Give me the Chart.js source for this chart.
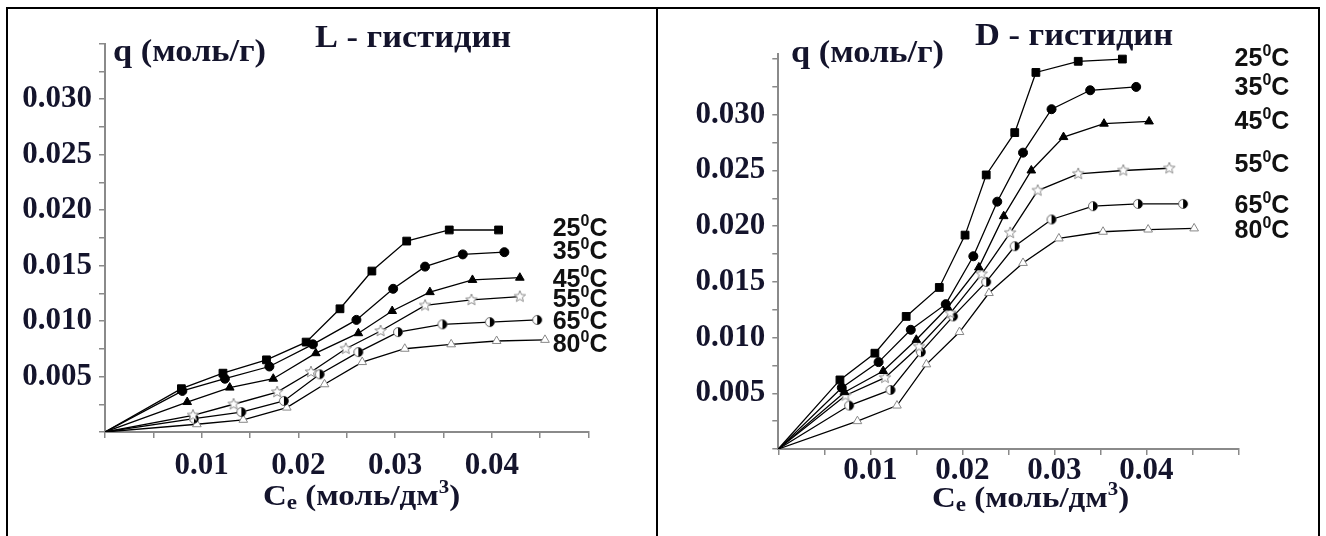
<!DOCTYPE html>
<html>
<head>
<meta charset="utf-8">
<title>Изотермы адсорбции гистидина</title>
<script src="https://cdn.jsdelivr.net/npm/chart.js@4.4.1/dist/chart.umd.min.js"></script>
<style>
  body { margin: 0; background: #fff; width: 1326px; height: 536px; overflow: hidden; position: relative; }
  .line { position: absolute; background: #000; }
  canvas { position: absolute; }
</style>
</head>
<body>
<div class="line" style="left:6px;top:7px;width:1314px;height:2px"></div>
<div class="line" style="left:6px;top:7px;width:2px;height:529px"></div>
<div class="line" style="left:656px;top:7px;width:2px;height:529px"></div>
<div class="line" style="left:1318px;top:7px;width:2px;height:529px"></div>
<canvas id="lChart" width="648" height="527" style="left:8px;top:9px"></canvas>
<canvas id="dChart" width="660" height="527" style="left:658px;top:9px"></canvas>
<script>
const temps = ['25', '35', '45', '55', '65', '80'];

// L - гистидин : Ce (моль/дм3) and q (моль/г)
const lCe25 = [0, 0.0079, 0.0122, 0.0167, 0.0208, 0.0243, 0.0276, 0.0312, 0.0356, 0.0407];
const lQ25  = [0, 0.0039, 0.0053, 0.0065, 0.0081, 0.0111, 0.0145, 0.0172, 0.0182, 0.0182];
const lCe35 = [0, 0.0080, 0.0124, 0.0170, 0.0215, 0.0260, 0.0298, 0.0331, 0.0370, 0.0413];
const lQ35  = [0, 0.0037, 0.0048, 0.0059, 0.0079, 0.0101, 0.0129, 0.0149, 0.0160, 0.0162];
const lCe45 = [0, 0.0085, 0.0129, 0.0174, 0.0218, 0.0262, 0.0297, 0.0336, 0.0380, 0.0429];
const lQ45  = [0, 0.0027, 0.0040, 0.0048, 0.0071, 0.0089, 0.0109, 0.0126, 0.0137, 0.0139];
const lCe55 = [0, 0.0091, 0.0133, 0.0178, 0.0213, 0.0249, 0.0285, 0.0331, 0.0379, 0.0429];
const lQ55  = [0, 0.0015, 0.0025, 0.0036, 0.0054, 0.0075, 0.0091, 0.0114, 0.0119, 0.0122];
const lCe65 = [0, 0.0092, 0.0141, 0.0185, 0.0222, 0.0262, 0.0303, 0.0349, 0.0398, 0.0447];
const lQ65  = [0, 0.0012, 0.0018, 0.0028, 0.0052, 0.0072, 0.0090, 0.0097, 0.0099, 0.0101];
const lCe80 = [0, 0.0095, 0.0143, 0.0188, 0.0227, 0.0266, 0.0310, 0.0358, 0.0405, 0.0455];
const lQ80  = [0, 0.0007, 0.0011, 0.0022, 0.0043, 0.0063, 0.0075, 0.0079, 0.0082, 0.0083];

// D - гистидин
const dCe25 = [0, 0.0067, 0.0105, 0.0139, 0.0175, 0.0203, 0.0226, 0.0257, 0.0280, 0.0326, 0.0374];
const dQ25  = [0, 0.0062, 0.0086, 0.0119, 0.0145, 0.0192, 0.0246, 0.0284, 0.0338, 0.0348, 0.0350];
const dCe35 = [0, 0.0069, 0.0109, 0.0144, 0.0182, 0.0212, 0.0238, 0.0266, 0.0297, 0.0339, 0.0389];
const dQ35  = [0, 0.0055, 0.0078, 0.0107, 0.0130, 0.0173, 0.0222, 0.0266, 0.0305, 0.0322, 0.0325];
const dCe45 = [0, 0.0072, 0.0114, 0.0150, 0.0184, 0.0218, 0.0245, 0.0275, 0.0310, 0.0354, 0.0403];
const dQ45  = [0, 0.0051, 0.0070, 0.0098, 0.0127, 0.0163, 0.0209, 0.0250, 0.0280, 0.0292, 0.0294];
const dCe55 = [0, 0.0073, 0.0116, 0.0153, 0.0187, 0.0221, 0.0252, 0.0282, 0.0326, 0.0375, 0.0425];
const dQ55  = [0, 0.0048, 0.0064, 0.0092, 0.0122, 0.0157, 0.0194, 0.0232, 0.0247, 0.0250, 0.0252];
const dCe65 = [0, 0.0077, 0.0122, 0.0155, 0.0190, 0.0226, 0.0257, 0.0297, 0.0342, 0.0391, 0.0440];
const dQ65  = [0, 0.0039, 0.0053, 0.0087, 0.0119, 0.0150, 0.0182, 0.0206, 0.0218, 0.0220, 0.0220];
const dCe80 = [0, 0.0086, 0.0129, 0.0161, 0.0197, 0.0229, 0.0266, 0.0305, 0.0353, 0.0402, 0.0452];
const dQ80  = [0, 0.0025, 0.0039, 0.0076, 0.0105, 0.0140, 0.0167, 0.0189, 0.0195, 0.0197, 0.0198];

const INK = '#14142c';
const AXIS = '#8a8a8a';
const SERIF = '"Liberation Serif", "Times New Roman", serif';
const SANS = '"Liberation Sans", Arial, sans-serif';

// marker images for the open star and the half filled circle
function makeStar() {
  const c = document.createElement('canvas');
  c.width = c.height = 14;
  const g = c.getContext('2d');
  g.beginPath();
  for (let i = 0; i < 10; i++) {
    const r = i % 2 ? 2.6 : 6;
    const a = -Math.PI / 2 + i * Math.PI / 5;
    g.lineTo(7 + r * Math.cos(a), 7 + r * Math.sin(a));
  }
  g.closePath();
  g.fillStyle = '#fff';
  g.fill();
  g.strokeStyle = '#8c8c8c';
  g.lineWidth = 1;
  g.stroke();
  return c;
}
function makeHalf() {
  const c = document.createElement('canvas');
  c.width = c.height = 12;
  const g = c.getContext('2d');
  g.beginPath();
  g.arc(6, 6, 4.5, 0, Math.PI * 2);
  g.fillStyle = '#fff';
  g.fill();
  g.strokeStyle = '#666';
  g.lineWidth = 1;
  g.stroke();
  g.beginPath();
  g.arc(6, 6, 4.5, -Math.PI / 2, Math.PI / 2);
  g.closePath();
  g.fillStyle = '#000';
  g.fill();
  return c;
}
const starImg = makeStar();
const halfImg = makeHalf();

const markers = [
  { style: 'rect', r: 5.5, fill: '#000', edge: '#000' },
  { style: 'circle', r: 4.5, fill: '#000', edge: '#000' },
  { style: 'triangle', r: 5, fill: '#000', edge: '#000' },
  { style: starImg, r: 5, fill: '#fff', edge: '#888' },
  { style: halfImg, r: 5, fill: '#000', edge: '#000' },
  { style: 'triangle', r: 5, fill: '#fff', edge: '#888' }
];

function series(xs, ys, i) {
  const m = markers[i];
  return {
    label: temps[i] + '°C',
    data: xs.map((x, k) => ({ x: x, y: ys[k] })),
    borderColor: '#000',
    borderWidth: 1.3,
    tension: 0,
    pointStyle: m.style,
    pointRadius: ctx => ctx.dataIndex === 0 ? 0 : m.r,
    pointBackgroundColor: m.fill,
    pointBorderColor: m.edge,
    pointBorderWidth: 1
  };
}

// text pieces with sub/superscripts, y is the baseline, sx stretches it sideways
function drawRich(ctx, parts, x, y, sx) {
  ctx.save();
  ctx.translate(x, y);
  ctx.scale(sx || 1, 1);
  let cx = 0;
  parts.forEach(p => {
    ctx.font = p[1];
    ctx.fillText(p[0], cx, p[2] || 0);
    cx += ctx.measureText(p[0]).width;
  });
  ctx.restore();
}

const panelText = {
  id: 'panelText',
  afterDraw(chart, args, o) {
    const ctx = chart.ctx;
    ctx.save();
    ctx.fillStyle = INK;
    ctx.textBaseline = 'alphabetic';
    ctx.textAlign = 'left';
    drawRich(ctx, [[o.title, 'bold 31px ' + SERIF]], o.titleX, o.titleY, 1.11);
    drawRich(ctx, [['q (моль/г)', 'bold 31px ' + SERIF]], o.qX, o.qY, 1.11);
    drawRich(ctx, [
      ['C', 'bold 30px ' + SERIF],
      ['e', 'bold 21px ' + SERIF, 4],
      [' (моль/дм', 'bold 30px ' + SERIF],
      ['3', 'bold 19px ' + SERIF, -12],
      [')', 'bold 30px ' + SERIF]
    ], o.ceX, o.ceY, 1.1);
    ctx.fillStyle = '#111';
    const xs = chart.scales.x, ys = chart.scales.y;
    chart.data.datasets.forEach((ds, i) => {
      const last = ds.data[ds.data.length - 1].y;
      const y = ys.getPixelForValue(last) + 9 + (o.labelDy[i] || 0);
      drawRich(ctx, [
        [temps[i], 'bold 25px ' + SANS],
        ['0', 'bold 16px ' + SANS, -10],
        ['C', 'bold 25px ' + SANS]
      ], xs.getPixelForValue(o.labelX), y);
    });
    ctx.restore();
  }
};

function isStep(v, step) {
  const k = v / step;
  return Math.abs(k - Math.round(k)) < 1e-6;
}

function makeChart(id, sets, box, text) {
  return new Chart(document.getElementById(id), {
    type: 'line',
    data: { datasets: sets },
    plugins: [panelText],
    options: {
      responsive: false,
      animation: false,
      layout: { padding: { left: 0, top: box.top, right: box.right, bottom: 0 } },
      plugins: {
        legend: { display: false },
        tooltip: { enabled: false },
        panelText: text
      },
      scales: {
        x: {
          type: 'linear',
          min: 0,
          max: 0.05,
          afterFit: s => { s.height = box.xh; },
          border: { display: true, color: AXIS, width: 2 },
          grid: { drawOnChartArea: false, drawTicks: true, tickLength: 6, color: AXIS, lineWidth: 1.5 },
          ticks: {
            stepSize: 0.005,
            autoSkip: false,
            maxRotation: 0,
            padding: box.xpad,
            color: INK,
            font: { family: SERIF, weight: 'bold', size: 31 },
            callback: v => (v > 0.001 && v < 0.045 && isStep(v, 0.01)) ? v.toFixed(2) : ''
          }
        },
        y: {
          type: 'linear',
          min: 0,
          max: box.ymax,
          afterFit: s => { s.width = box.yw; },
          border: { display: true, color: AXIS, width: 2 },
          grid: { drawOnChartArea: false, drawTicks: true, tickLength: 6, color: AXIS, lineWidth: 1.5 },
          ticks: {
            stepSize: 0.0025,
            includeBounds: false,
            autoSkip: false,
            padding: 7,
            color: INK,
            font: { family: SERIF, weight: 'bold', size: 31 },
            callback: v => (v > 0.001 && v < 0.0345 && isStep(v, 0.005)) ? v.toFixed(3) : ''
          }
        }
      }
    }
  });
}

const lSets = [
  series(lCe25, lQ25, 0), series(lCe35, lQ35, 1), series(lCe45, lQ45, 2),
  series(lCe55, lQ55, 3), series(lCe65, lQ65, 4), series(lCe80, lQ80, 5)
];
const dSets = [
  series(dCe25, dQ25, 0), series(dCe35, dQ35, 1), series(dCe45, dQ45, 2),
  series(dCe55, dQ55, 3), series(dCe65, dQ65, 4), series(dCe80, dQ80, 5)
];

makeChart('lChart', lSets,
  { top: 34.5, right: 67.5, xh: 104, yw: 97, ymax: 0.035, xpad: 9 },
  { title: 'L - гистидин', titleX: 307, titleY: 38, qX: 105, qY: 52, ceX: 255, ceY: 496,
    labelX: 0.0463, labelDy: [-3, -2, 0, 1, 0, 3] });

makeChart('dChart', dSets,
  { top: 44.5, right: 79.7, xh: 87, yw: 120.3, ymax: 0.0355, xpad: -3 },
  { title: 'D - гистидин', titleX: 317, titleY: 36, qX: 133, qY: 53, ceX: 274, ceY: 498,
    labelX: 0.0496, labelDy: [-2, -1, -1, -5, 0, 1] });
</script>
</body>
</html>
